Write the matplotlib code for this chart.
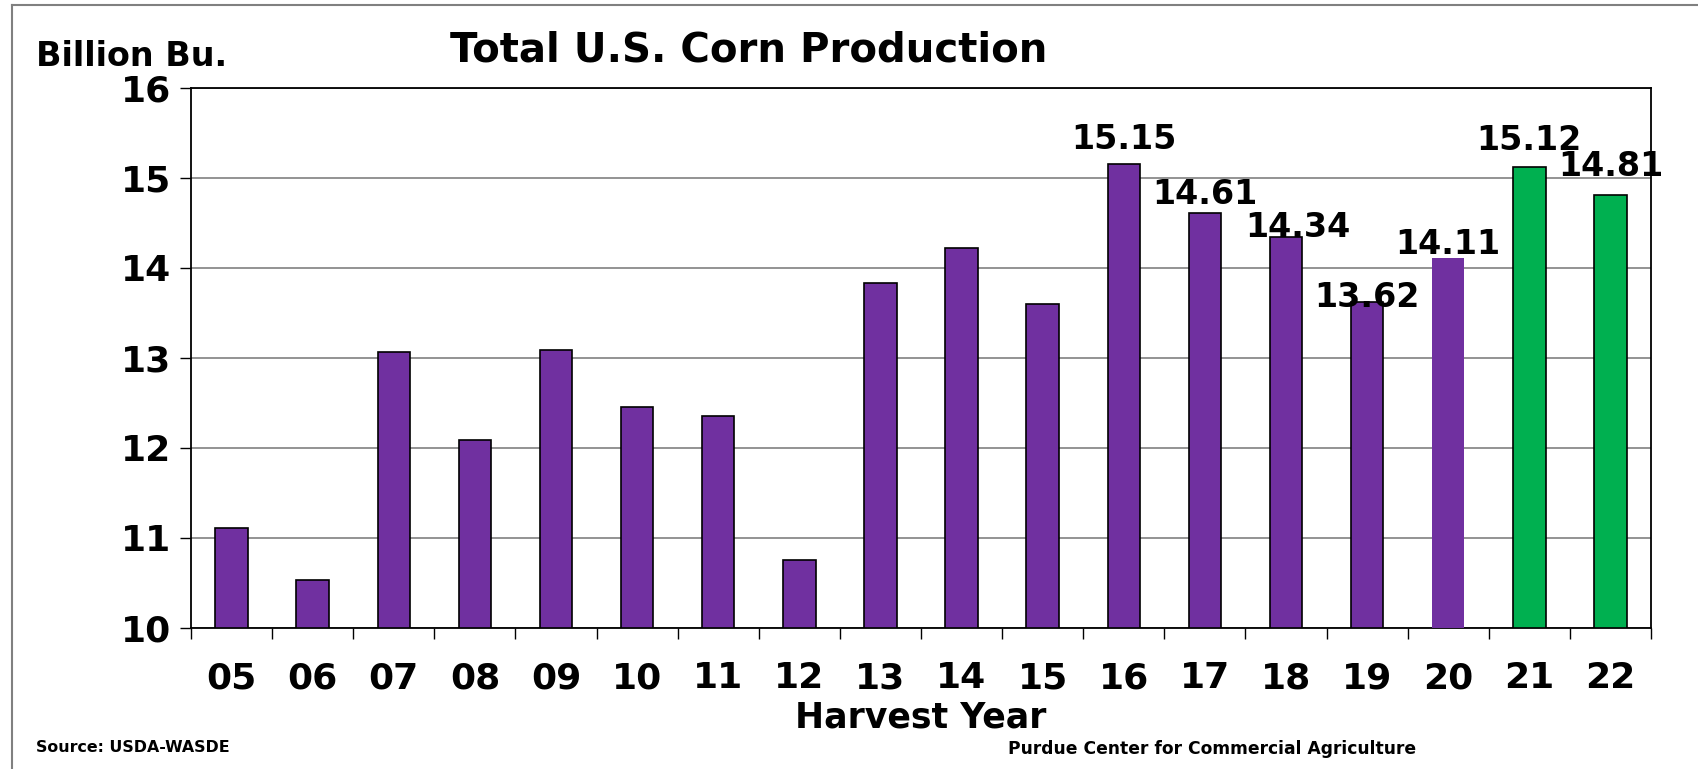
import matplotlib.pyplot as plt
import numpy as np
from matplotlib.lines import Line2D

years = ["05", "06", "07", "08", "09", "10", "11", "12", "13",
         "14", "15", "16", "17", "18", "19", "20", "21", "22"]
production = [11.11, 10.53, 13.07, 12.09, 13.09, 12.45, 12.36, 10.76, 13.83,
              14.22, 13.60, 15.15, 14.61, 14.34, 13.62, 14.11, 15.12, 14.81]
purple = "#7030A0"
green = "#00B050"
colors = [purple] * 16 + [green] * 2
edges = ["black"] * 15 + ["none"] + ["black"] * 2

# labelled bars: index -> (dx, dy) nudges
labelled = [11, 12, 13, 14, 15, 16, 17]
label_dx = [0.0, 0.0, 0.15, 0.0, 0.0, 0.0, 0.0]
label_dy = [0.17, 0.10, 0.0, -0.05, 0.04, 0.19, 0.21]

plt.rcParams['font.family'] = ['DejaVu Sans']
plt.rcParams['font.weight'] = 'bold'

fig = plt.figure(figsize=(16.98, 7.69), dpi=100)
ax = fig.add_axes([0.1125, 0.1834, 0.8598, 0.7022])

x = np.arange(len(years))
ax.bar(x, [p - 10 for p in production], bottom=10, width=0.4,
       color=colors, edgecolor=edges, linewidth=1.2, zorder=3)

for i, dx, dy in zip(labelled, label_dx, label_dy):
    ax.text(i + dx, production[i] + dy, f"{production[i]:.2f}",
            ha='center', va='baseline', fontsize=24, fontweight='bold', zorder=4)

ax.set_xlim(-0.5, len(years) - 0.5)
ax.set_ylim(10, 16)
ax.set_yticks(range(10, 17))
ax.yaxis.grid(True, color="#808080", linewidth=1.2, zorder=0)
ax.set_axisbelow(True)

ax.set_xticks(x)
ax.set_xticklabels(years)
ax.set_xticks(np.arange(-0.5, len(years)), minor=True)
ax.tick_params(axis='x', which='major', length=0, pad=24, labelsize=26)
ax.tick_params(axis='x', which='minor', length=8, width=1, direction='out')
ax.tick_params(axis='y', length=8, width=1, pad=6, labelsize=26)
for lab in ax.get_xticklabels() + ax.get_yticklabels():
    lab.set_fontweight('bold')

for s in ax.spines.values():
    s.set_linewidth(1.3)
    s.set_color("black")

ax.set_xlabel("Harvest Year", fontsize=25, fontweight='bold', labelpad=4)

fig.text(0.441, 0.934, "Total U.S. Corn Production", ha='center', va='center',
         fontsize=29, fontweight='bold')
fig.text(0.0212, 0.926, "Billion Bu.", ha='left', va='center',
         fontsize=24, fontweight='bold')
fig.text(0.0212, 0.0286, "Source: USDA-WASDE", ha='left', va='center',
         fontsize=11.4, fontweight='bold')
fig.text(0.714, 0.026, "Purdue Center for Commercial Agriculture", ha='center',
         va='center', fontsize=12.3, fontweight='bold')

# outer frame (left and top edges only)
fig.add_artist(Line2D([0.0071, 0.0071], [0, 0.994], transform=fig.transFigure,
                      color="#808080", linewidth=1.5))
fig.add_artist(Line2D([0.0071, 1], [0.994, 0.994], transform=fig.transFigure,
                      color="#808080", linewidth=1.5))

fig.savefig("out.png", dpi=100)
